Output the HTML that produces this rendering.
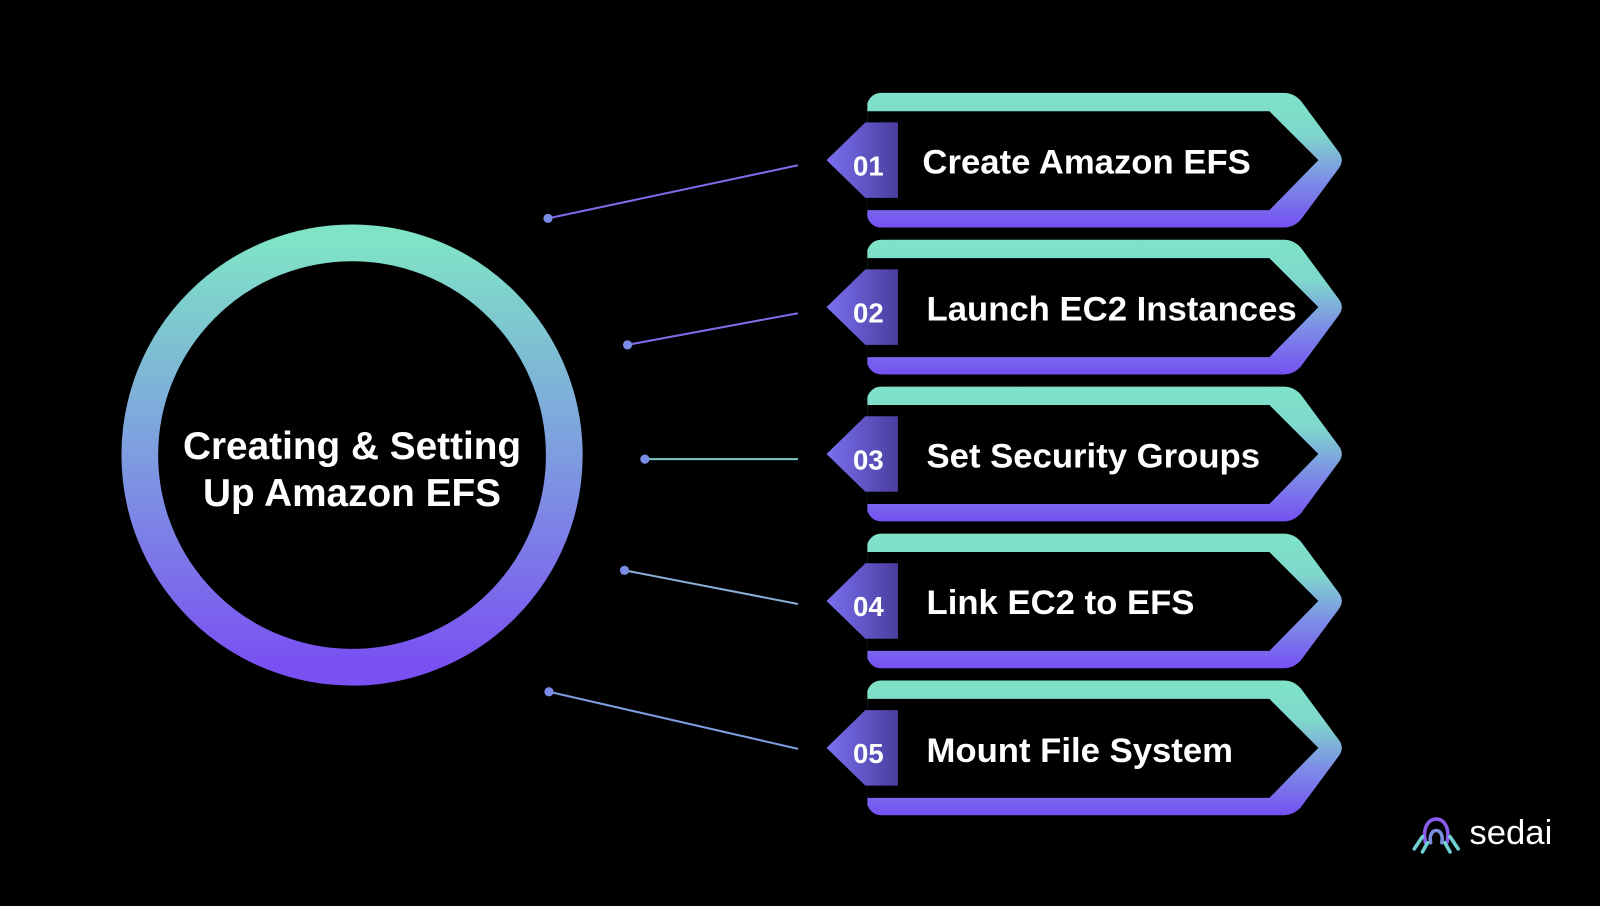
<!DOCTYPE html>
<html><head><meta charset="utf-8"><style>
html,body{margin:0;padding:0;background:#000;}
svg{display:block}
text{font-family:"Liberation Sans",sans-serif;fill:#fff}
</style></head><body>
<svg width="1600" height="906" viewBox="0 0 1568 888" preserveAspectRatio="none">
<defs>
<linearGradient id="ring" x1="0" y1="0" x2="0" y2="1">
<stop offset="0" stop-color="#7fe3c6"/><stop offset="0.5" stop-color="#7e9ce0"/><stop offset="1" stop-color="#7a50f2"/>
</linearGradient>
<linearGradient id="card" x1="0" y1="0" x2="0" y2="1">
<stop offset="0" stop-color="#7fe3c8"/><stop offset="0.3" stop-color="#7fd8cc"/><stop offset="0.65" stop-color="#7d8ee6"/><stop offset="1" stop-color="#7650f2"/>
</linearGradient>
<linearGradient id="badge" x1="0" y1="0" x2="1" y2="0">
<stop offset="0" stop-color="#7a70f0"/><stop offset="1" stop-color="#4a3d9e"/>
</linearGradient>
<g id="c">
<path d="M864,-66 L1258,-66 Q1268,-66 1275,-58 L1312,-8 Q1318,0 1312,8 L1275,58 Q1268,66 1258,66 L864,66 Q854,66 850,56 L850,-56 Q854,-66 864,-66 Z" fill="url(#card)"/>
<path d="M850,-48 L1244,-48 L1292,0 L1244,49 L850,49 Z" fill="#000"/>
<path d="M810,0 L848,-37 L880,-37 L880,37 L848,37 Z" fill="url(#badge)"/>
</g>
</defs>
<circle cx="345" cy="446" r="208" fill="none" stroke="url(#ring)" stroke-width="36"/>
<text x="345" y="450" font-size="38" font-weight="bold" text-anchor="middle">Creating &amp; Setting</text>
<text x="345" y="496" font-size="38" font-weight="bold" text-anchor="middle">Up Amazon EFS</text>

<g stroke-width="2" fill="none">
<line x1="537" y1="214" x2="782" y2="162" stroke="#7a6ee8"/>
<line x1="615" y1="338" x2="782" y2="307" stroke="#7a6ee8"/>
<line x1="632" y1="450" x2="782" y2="450" stroke="#7fc8c8"/>
<line x1="612" y1="559" x2="782" y2="592" stroke="#8ab0d8"/>
<line x1="538" y1="678" x2="782" y2="734" stroke="#7f9ee0"/>
</g>
<g fill="#7a8ce6">
<circle cx="537" cy="214" r="4.5"/><circle cx="615" cy="338" r="4.5"/><circle cx="632" cy="450" r="4.5"/><circle cx="612" cy="559" r="4.5"/><circle cx="538" cy="678" r="4.5"/>
</g>

<use href="#c" transform="translate(0,157)"/>
<use href="#c" transform="translate(0,301)"/>
<use href="#c" transform="translate(0,445)"/>
<use href="#c" transform="translate(0,589)"/>
<use href="#c" transform="translate(0,733)"/>

<g font-size="27" font-weight="bold" text-anchor="middle">
<text x="851" y="172">01</text><text x="851" y="316">02</text><text x="851" y="460">03</text><text x="851" y="604">04</text><text x="851" y="748">05</text>
</g>
<g font-size="34" font-weight="bold">
<text x="904" y="170">Create Amazon EFS</text>
<text x="908" y="314">Launch EC2 Instances</text>
<text x="908" y="458">Set Security Groups</text>
<text x="908" y="602">Link EC2 to EFS</text>
<text x="908" y="747">Mount File System</text>
</g>

<g fill="none" stroke-width="3.5" stroke-linecap="round">
<path d="M1397,826 C1390,795 1425,795 1418,826" stroke="#8a5cf0"/>
<path d="M1402,826 C1399,810 1416,810 1413,826" stroke="#7a8ee0"/>
<path d="M1394,820 L1386,832 M1399,826 L1394,835 M1416,826 L1421,835 M1421,820 L1429,832" stroke="#6fd0d0"/>
</g>
<text x="1440" y="827" font-size="34" fill="#fff">sedai</text>
</svg>
</body></html>
